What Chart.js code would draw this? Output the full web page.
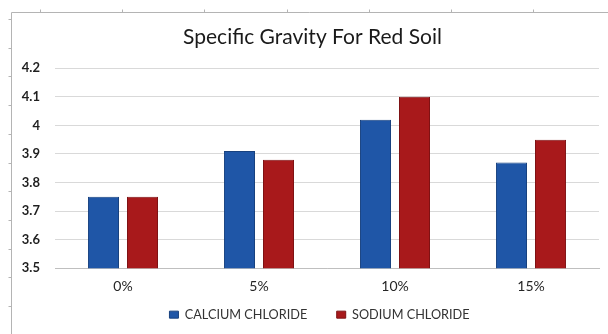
<!DOCTYPE html>
<html>
<head>
<meta charset="utf-8">
<script src="https://cdn.jsdelivr.net/npm/chart.js@4.4.1/dist/chart.umd.min.js"></script>
<style>
  html, body { margin: 0; padding: 0; background: #fff; }
  #wrap { width: 608px; height: 334px; }
</style>
</head>
<body>
<div id="wrap"><canvas id="gravityChart" width="608" height="334"></canvas></div>
<script>
// chart data
const categories = ["0%", "5%", "10%", "15%"];
const calciumChloride = [3.75, 3.91, 4.02, 3.87];
const sodiumChloride = [3.75, 3.88, 4.10, 3.95];
const seriesNames = ["CALCIUM CHLORIDE", "SODIUM CHLORIDE"];
const yMin = 3.5;
const yMax = 4.2;
const yStep = 0.1;

// the sheet-style frame around the chart (top and left border with small ticks)
const framePlugin = {
    id: "frame",
    afterLayout(chart) {
        // title and legend sit a bit right of the plot centre in the original
        chart.titleBlock.left += 6;
        chart.titleBlock.right += 6;
        chart.legend.left += 13;
        chart.legend.right += 13;
    },
    beforeDraw(chart) {
        const ctx = chart.ctx;
        ctx.save();
        ctx.strokeStyle = "#b4b4b4";
        ctx.lineWidth = 1;
        ctx.beginPath();
        ctx.moveTo(11.5, 334);
        ctx.lineTo(11.5, 12.5);
        ctx.lineTo(608, 12.5);
        ctx.stroke();
        ctx.beginPath();
        for (let x = 40; x < 608; x += 82.2) {
            ctx.moveTo(Math.round(x) + 0.5, 12.5);
            ctx.lineTo(Math.round(x) + 0.5, 9.5);
        }
        for (let y = 19; y < 334; y += 28.7) {
            ctx.moveTo(11.5, Math.round(y) + 0.5);
            ctx.lineTo(8.5, Math.round(y) + 0.5);
        }
        ctx.stroke();
        ctx.restore();
    }
};

const gravityChart = new Chart(document.getElementById("gravityChart"), {
    type: "bar",
    data: {
        labels: categories,
        datasets: [
            {
                label: seriesNames[0],
                data: calciumChloride,
                backgroundColor: "#1f56a7",
                borderColor: "#17417f",
                borderWidth: 1,
                categoryPercentage: 0.574,
                barPercentage: 0.795
            },
            {
                label: seriesNames[1],
                data: sodiumChloride,
                backgroundColor: "#a8191b",
                borderColor: "#7e1214",
                borderWidth: 1,
                categoryPercentage: 0.574,
                barPercentage: 0.795
            }
        ]
    },
    options: {
        responsive: false,
        animation: false,
        devicePixelRatio: 1,
        layout: { padding: { left: 14, right: 9, top: 25, bottom: 3 } },
        plugins: {
            title: {
                display: true,
                text: "Specific Gravity For Red Soil",
                color: "#1a1a1a",
                font: { family: "Lato", size: 21, weight: "normal" },
                padding: { top: 0, bottom: 18 }
            },
            legend: {
                position: "bottom",
                labels: {
                    color: "#333333",
                    font: { family: "Lato", size: 12.7 },
                    boxWidth: 9,
                    boxHeight: 7,
                    padding: 10,
                    // wider gap between the two entries
                    generateLabels(chart) {
                        const items = Chart.defaults.plugins.legend.labels.generateLabels(chart);
                        items.forEach((item, i) => {
                            if (i < items.length - 1) item.text += "      ";
                        });
                        return items;
                    }
                }
            },
            tooltip: { enabled: false }
        },
        scales: {
            x: {
                afterFit(scale) { scale.height = 30; },
                grid: { display: false, drawTicks: false },
                border: { color: "#bfbfbf" },
                ticks: {
                    color: "#262626",
                    font: { family: "Lato", size: 14 },
                    padding: 10
                }
            },
            y: {
                min: yMin,
                max: yMax,
                afterFit(scale) { scale.width = 41; },
                grid: { color: "#d9d9d9", drawTicks: false },
                border: { display: false },
                ticks: {
                    stepSize: yStep,
                    color: "#1f1f1f",
                    font: { family: "Lato", size: 13, weight: "bold" },
                    padding: 15,
                    callback: (v) => String(Math.round(v * 10) / 10)
                }
            }
        }
    },
    plugins: [framePlugin]
});
</script>
</body>
</html>
